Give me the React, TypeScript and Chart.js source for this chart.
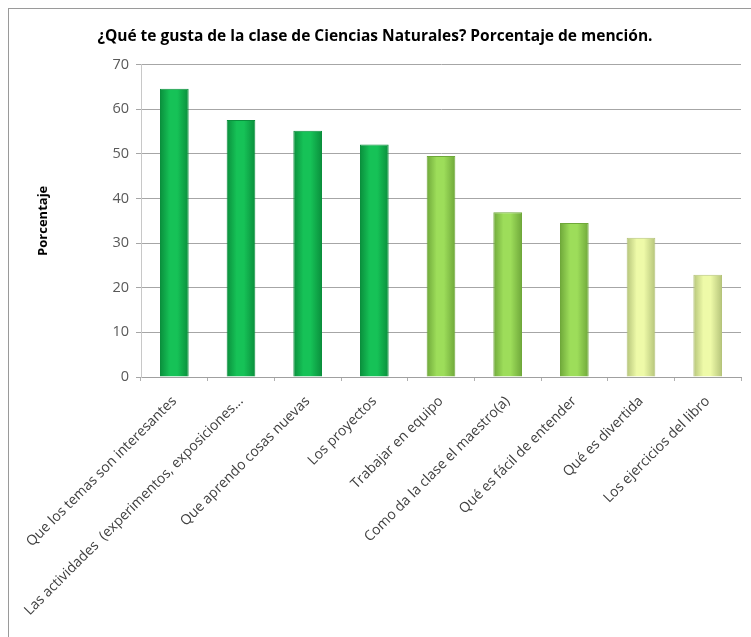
import React, { useEffect, useRef } from "react";
import { Chart, registerables } from "chart.js";

Chart.register(...registerables);

const titleText = "¿Qué te gusta de la clase de Ciencias Naturales? Porcentaje de mención.";
const yAxisTitle = "Porcentaje";
const categories = [
  "Que los temas son interesantes",
  "Las actividades  (experimentos, exposiciones...",
  "Que aprendo cosas nuevas",
  "Los proyectos",
  "Trabajar en equipo",
  "Como da la clase el maestro(a)",
  "Qué es fácil de entender",
  "Qué es divertida",
  "Los ejercicios del libro",
];
const values = [64.6, 57.6, 55.2, 52.1, 49.5, 36.9, 34.5, 31.2, 22.9];
const yTicks = [0, 10, 20, 30, 40, 50, 60, 70];

// colour groups: [edge, centre]
const palette = [
  ["#0a8f3c", "#16c257"],
  ["#0a8f3c", "#16c257"],
  ["#0a8f3c", "#16c257"],
  ["#0a8f3c", "#16c257"],
  ["#6fa83a", "#9ddd5a"],
  ["#6fa83a", "#9ddd5a"],
  ["#6fa83a", "#9ddd5a"],
  ["#b5c47a", "#eefaa8"],
  ["#b5c47a", "#eefaa8"],
];
const BAR_PCT = 0.43;

export default function App() {
  const ref = useRef<HTMLCanvasElement | null>(null);
  useEffect(() => {
    if (!ref.current) return;
    const chart = new Chart(ref.current, {
      type: "bar",
      data: {
        labels: categories,
        datasets: [
          {
            data: values,
            barPercentage: BAR_PCT,
            categoryPercentage: 1,
            borderWidth: 1,
            borderColor: (c: any) => palette[c.dataIndex][0],
            backgroundColor: (c: any) => {
              const ch = c.chart;
              const xs = ch.scales && ch.scales.x;
              const [edge, mid] = palette[c.dataIndex] || palette[0];
              if (!xs || c.dataIndex === undefined) return mid;
              const cx = xs.getPixelForValue(c.dataIndex);
              const w = (xs.width / categories.length) * BAR_PCT;
              if (!isFinite(cx) || !isFinite(w) || w <= 0) return mid;
              const g = ch.ctx.createLinearGradient(cx - w / 2, 0, cx + w / 2, 0);
              g.addColorStop(0, edge);
              g.addColorStop(0.35, mid);
              g.addColorStop(0.6, mid);
              g.addColorStop(1, edge);
              return g;
            },
          },
        ],
      },
      options: {
        animation: false,
        responsive: false,
        layout: { padding: { left: 0, right: 10, top: 0, bottom: 0 } },
        plugins: {
          legend: { display: false },
          tooltip: { enabled: false },
          title: {
            display: true,
            text: titleText,
            color: "#000000",
            font: { family: "Open Sans", size: 15.5, weight: "bold" },
            padding: { top: 18, bottom: 19 },
          },
        },
        scales: {
          x: {
            grid: {
              display: true,
              drawOnChartArea: false,
              drawTicks: true,
              tickLength: 4,
              color: "#b0b0b0",
            },
            border: { color: "#a0a0a0" },
            ticks: {
              autoSkip: false,
              maxRotation: 45,
              minRotation: 45,
              padding: 12,
              color: "#404040",
              font: { family: "Open Sans", size: 14 },
            },
            afterFit: (s: any) => {
              s.height = 260;
            },
          },
          y: {
            min: 0,
            max: 70,
            afterBuildTicks: (s: any) => {
              s.ticks = yTicks.map((v) => ({ value: v }));
            },
            grid: { color: "#a6a6a6", tickLength: 5 },
            border: { color: "#c8c8c8" },
            ticks: {
              padding: 7,
              color: "#595959",
              font: { family: "Open Sans", size: 14.5 },
            },
            title: {
              display: true,
              text: yAxisTitle,
              color: "#000000",
              font: { family: "Open Sans", size: 13, weight: "bold" },
              padding: { top: 26, bottom: 0 },
            },
            afterFit: (s: any) => {
              s.width = 132;
            },
          },
        },
      },
    });
    return () => chart.destroy();
  }, []);
  return (
    <div
      style={{
        position: "fixed",
        left: 8,
        top: 8,
        width: 743,
        height: 629,
        borderTop: "1px solid #9a9a9a",
        borderLeft: "1px solid #9a9a9a",
        boxSizing: "border-box",
        background: "#ffffff",
        overflow: "hidden",
      }}
    >
      <canvas ref={ref} width={742} height={628} style={{ display: "block" }} />
    </div>
  );
}
